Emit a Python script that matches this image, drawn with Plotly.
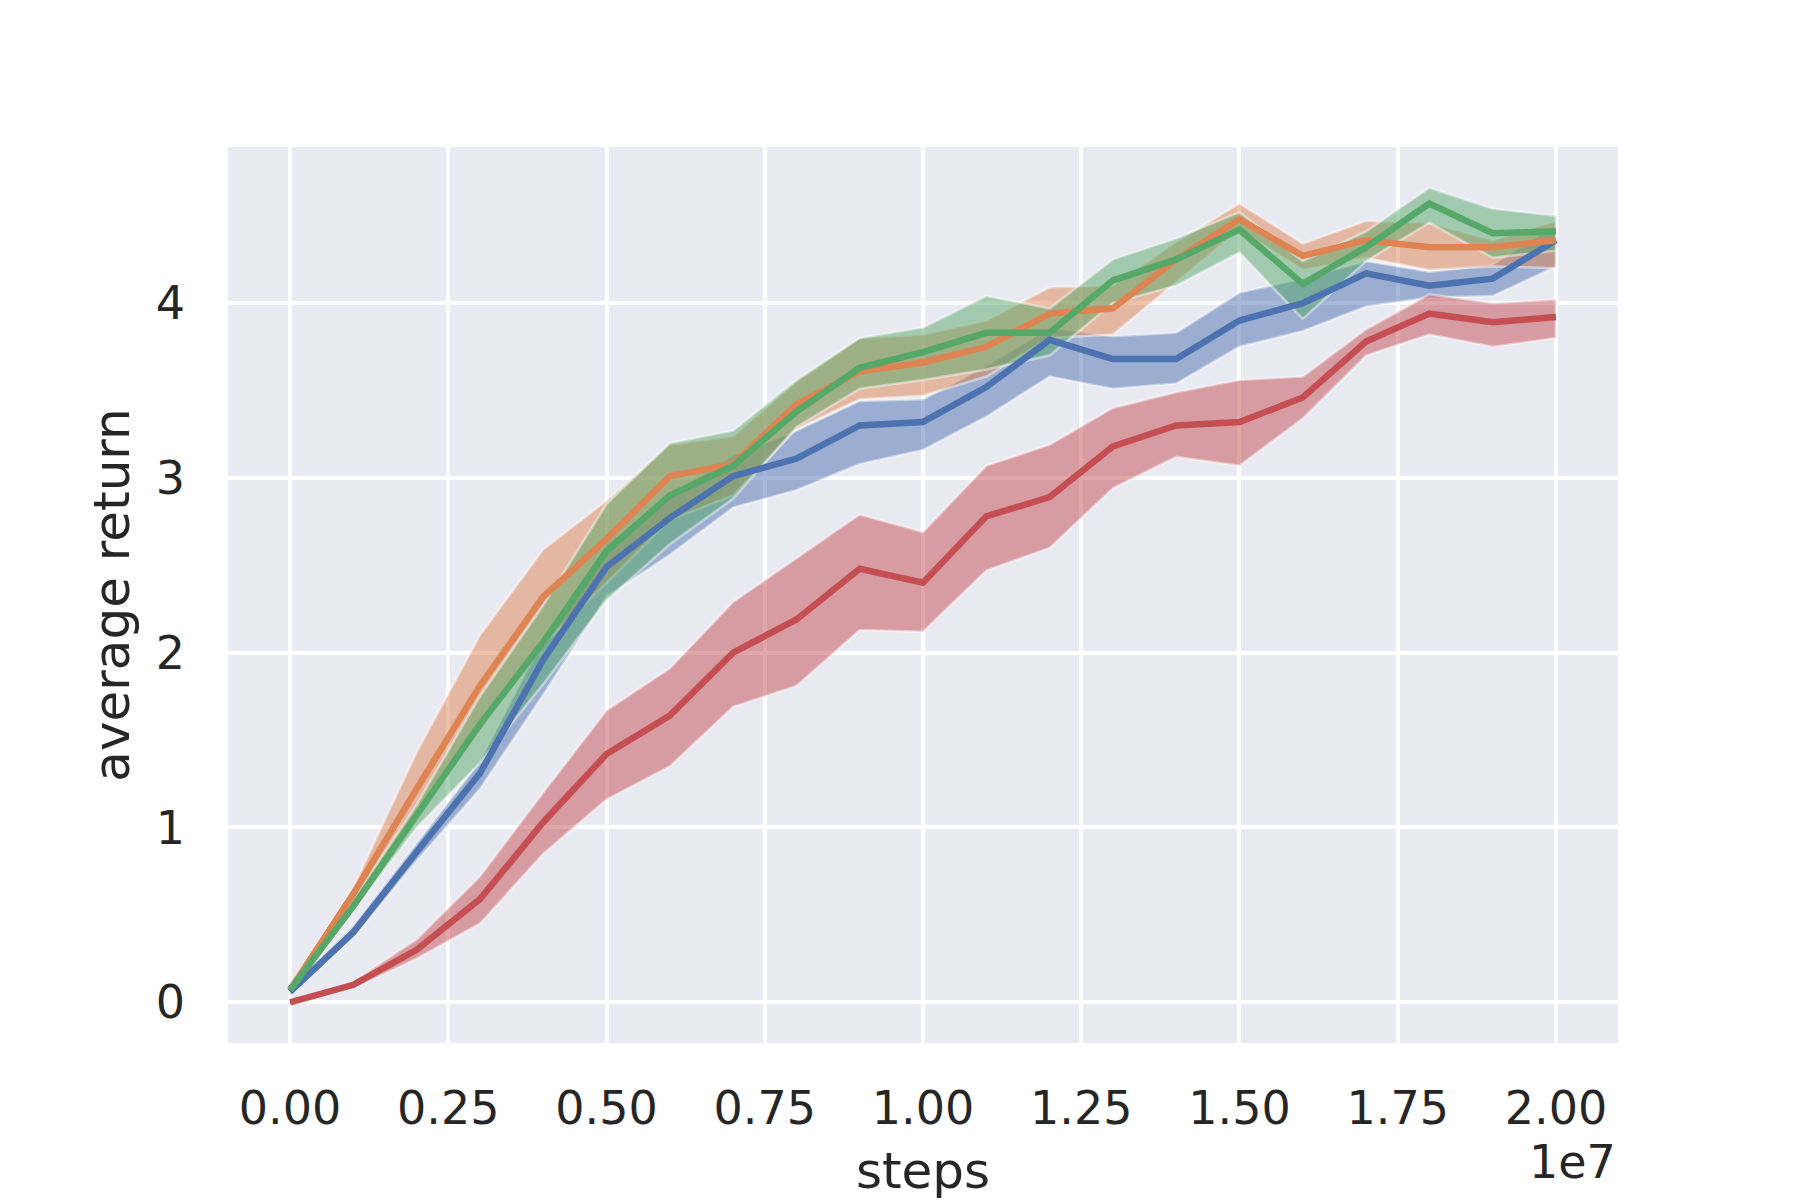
import plotly.graph_objects as go

# training steps (x) and tick labels
STEPS = [0, 1000000, 2000000, 3000000, 4000000, 5000000, 6000000, 7000000,
         8000000, 9000000, 10000000, 11000000, 12000000, 13000000, 14000000,
         15000000, 16000000, 17000000, 18000000, 19000000, 20000000]
X_TICKS = [0, 2500000, 5000000, 7500000, 10000000, 12500000, 15000000, 17500000, 20000000]
X_TICK_TEXT = ["0.00", "0.25", "0.50", "0.75", "1.00", "1.25", "1.50", "1.75", "2.00"]
Y_TICKS = [0, 1, 2, 3, 4]

# mean return and the shaded band (lo / hi) per run
blue_mean = [0.06, 0.40, 0.86, 1.31, 1.96, 2.49, 2.77, 3.01, 3.11, 3.30, 3.32,
             3.52, 3.79, 3.68, 3.68, 3.90, 4.00, 4.17, 4.10, 4.14, 4.36]
blue_lo = [0.04, 0.37, 0.81, 1.22, 1.76, 2.32, 2.56, 2.83, 2.93, 3.08, 3.16,
           3.35, 3.58, 3.51, 3.54, 3.75, 3.84, 3.98, 4.03, 4.04, 4.21]
blue_hi = [0.08, 0.44, 0.91, 1.38, 2.08, 2.62, 2.90, 3.13, 3.27, 3.44, 3.45,
           3.64, 3.86, 3.81, 3.83, 4.06, 4.14, 4.24, 4.18, 4.22, 4.45]

orange_mean = [0.07, 0.62, 1.22, 1.81, 2.32, 2.65, 3.01, 3.08, 3.42, 3.61, 3.66,
               3.75, 3.94, 3.97, 4.25, 4.48, 4.27, 4.36, 4.32, 4.32, 4.36]
orange_lo = [0.05, 0.58, 1.05, 1.55, 2.05, 2.40, 2.76, 2.90, 3.28, 3.45, 3.47,
             3.58, 3.80, 3.82, 4.12, 4.42, 4.19, 4.26, 4.19, 4.21, 4.20]
orange_hi = [0.09, 0.66, 1.43, 2.10, 2.59, 2.87, 3.19, 3.24, 3.55, 3.80, 3.82,
             3.90, 4.09, 4.10, 4.35, 4.57, 4.34, 4.47, 4.46, 4.36, 4.47]

green_mean = [0.07, 0.55, 1.07, 1.59, 2.06, 2.58, 2.90, 3.07, 3.38, 3.63, 3.72,
              3.83, 3.83, 4.13, 4.25, 4.42, 4.11, 4.32, 4.57, 4.40, 4.41]
green_lo = [0.05, 0.52, 1.00, 1.37, 1.82, 2.30, 2.62, 2.88, 3.29, 3.51, 3.56,
            3.62, 3.70, 4.00, 4.10, 4.29, 3.91, 4.24, 4.46, 4.26, 4.30]
green_hi = [0.09, 0.59, 1.13, 1.75, 2.27, 2.85, 3.20, 3.27, 3.56, 3.80, 3.86,
            4.04, 3.97, 4.25, 4.37, 4.52, 4.24, 4.41, 4.66, 4.54, 4.50]

red_mean = [0.00, 0.10, 0.30, 0.59, 1.03, 1.42, 1.64, 2.00, 2.19, 2.48, 2.40,
            2.78, 2.89, 3.18, 3.30, 3.32, 3.46, 3.78, 3.94, 3.89, 3.92]
red_lo = [0.00, 0.08, 0.25, 0.45, 0.85, 1.16, 1.35, 1.69, 1.81, 2.13, 2.12,
          2.47, 2.60, 2.94, 3.12, 3.07, 3.34, 3.70, 3.82, 3.75, 3.80]
red_hi = [0.00, 0.12, 0.36, 0.72, 1.20, 1.67, 1.91, 2.29, 2.54, 2.79, 2.69,
          3.07, 3.19, 3.40, 3.49, 3.56, 3.58, 3.85, 4.05, 4.00, 4.02]

# seaborn "deep" palette
runs = [
    ((76, 114, 176), blue_mean, blue_lo, blue_hi),
    ((221, 132, 82), orange_mean, orange_lo, orange_hi),
    ((85, 168, 104), green_mean, green_lo, green_hi),
    ((196, 78, 82), red_mean, red_lo, red_hi),
]

TEXT = "#262626"
FONT = "DejaVu Sans"

fig = go.Figure()

# shaded bands first, lines on top
for rgb, mean, lo, hi in runs:
    r, g, b = rgb
    fig.add_trace(go.Scatter(
        x=STEPS + STEPS[::-1],
        y=hi + lo[::-1],
        fill="toself",
        fillcolor=f"rgba({r},{g},{b},0.5)",
        line=dict(color="rgba(255,255,255,0.45)", width=2.5),
        mode="lines",
        hoverinfo="skip",
        showlegend=False,
    ))

for rgb, mean, lo, hi in runs:
    r, g, b = rgb
    fig.add_trace(go.Scatter(
        x=STEPS, y=mean, mode="lines",
        line=dict(color=f"rgb({r},{g},{b})", width=6.5),
        showlegend=False,
    ))

# matplotlib-like 5% margins
all_vals = blue_lo + blue_hi + orange_lo + orange_hi + green_lo + green_hi + red_lo + red_hi
ymin, ymax = min(all_vals), max(all_vals)
span = ymax - ymin
xspan = STEPS[-1] - STEPS[0]

# the page body adds 8px at top/left, so the figure is 8px smaller than the window
fig.update_layout(
    width=1792, height=1192,
    paper_bgcolor="white",
    plot_bgcolor="#EAEAF2",
    margin=dict(l=220, r=182, t=139, b=150),
    font=dict(family=FONT, color=TEXT, size=46),
    xaxis=dict(
        range=[STEPS[0] - 0.049 * xspan, STEPS[-1] + 0.049 * xspan],
        tickvals=X_TICKS, ticktext=X_TICK_TEXT,
        showgrid=True, gridcolor="white", gridwidth=4,
        zeroline=False, showline=False, ticks="",
        ticklabelstandoff=34,
        tickfont=dict(size=46, color=TEXT, family=FONT),
        title=dict(text="steps", font=dict(size=50, color=TEXT, family=FONT), standoff=18),
    ),
    yaxis=dict(
        range=[ymin - 0.05 * span, ymax + 0.05 * span],
        tickvals=Y_TICKS,
        showgrid=True, gridcolor="white", gridwidth=4,
        zeroline=False, showline=False, ticks="",
        ticklabelstandoff=42,
        tickfont=dict(size=46, color=TEXT, family=FONT),
        title=dict(text="average return", font=dict(size=50, color=TEXT, family=FONT), standoff=10),
    ),
    annotations=[dict(
        text="1e7", x=1, y=-0.133, xref="paper", yref="paper",
        xanchor="right", yanchor="middle", showarrow=False,
        font=dict(size=46, color=TEXT, family=FONT),
    )],
)

fig.write_html("out.html")
